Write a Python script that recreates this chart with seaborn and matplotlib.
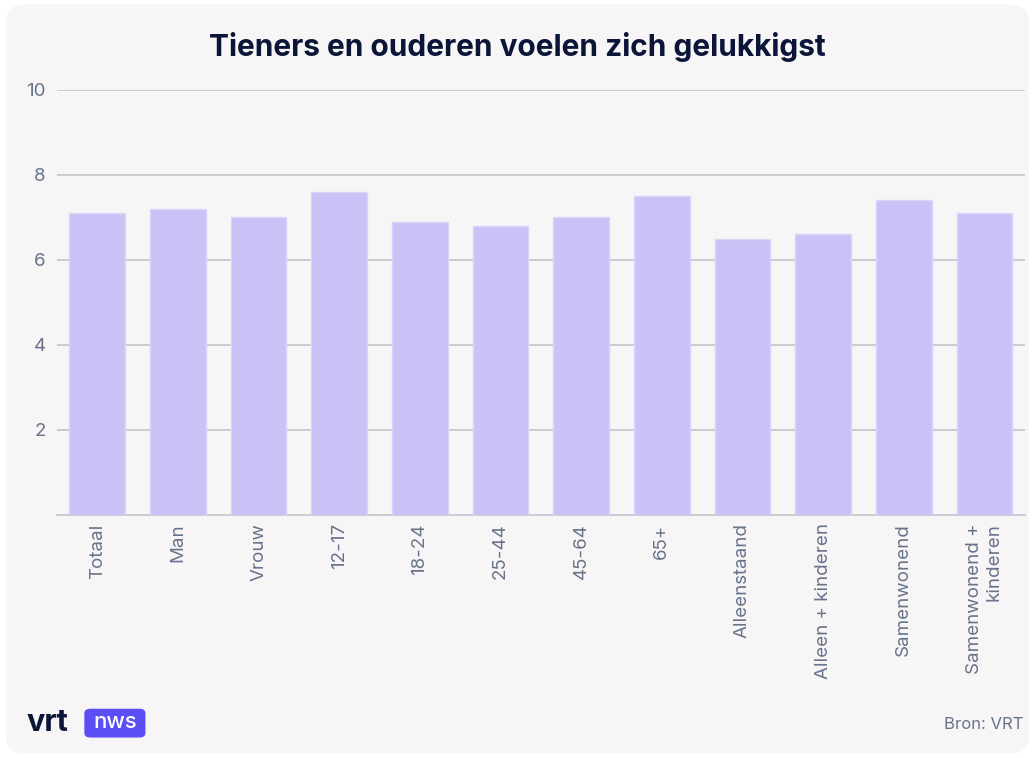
import matplotlib
matplotlib.use("Agg")
import matplotlib.pyplot as plt
import seaborn as sns
import pandas as pd
from matplotlib.patches import FancyBboxPatch

categories = ["Totaal", "Man", "Vrouw", "12-17", "18-24", "25-44", "45-64", "65+",
              "Alleenstaand", "Alleen + kinderen", "Samenwonend", "Samenwonend +\nkinderen"]
values = [7.1, 7.2, 7.0, 7.6, 6.9, 6.8, 7.0, 7.5, 6.5, 6.6, 7.4, 7.1]
y_ticks = [2, 4, 6, 8, 10]

sns.set_theme(style="white")
plt.rcParams['font.family'] = ['Inter', 'DejaVu Sans']

BG = "#f7f5f6"
BAR = "#c9c2f7"
GRID = "#c4c3ca"
TXT = "#67738a"

fig = plt.figure(figsize=(10.35, 7.58), dpi=100)
fig.patch.set_facecolor("white")
card = FancyBboxPatch((0.006, 0.006), 0.988, 0.988, boxstyle="round,pad=0,rounding_size=0.02",
                      transform=fig.transFigure, facecolor=BG, edgecolor="none", zorder=-10)
fig.patches.append(card)

ax = fig.add_axes([0.055, 0.3206, 0.935, 0.5607])
ax.set_facecolor(BG)
df = pd.DataFrame({"cat": categories, "val": values})
sns.barplot(data=df, x="cat", y="val", color=BAR, saturation=1, width=0.69, ax=ax, zorder=3,
            edgecolor="#d9d4fa", linewidth=1)
ax.set_xlim(-0.5, len(categories) - 0.5)
ax.set_ylim(0, 10)
ax.set_yticks(y_ticks)
ax.set_yticklabels([str(t) for t in y_ticks])
ax.yaxis.grid(True, color=GRID, linewidth=1.2, zorder=0)
ax.set_axisbelow(True)
for s in ["top", "right", "left"]:
    ax.spines[s].set_visible(False)
ax.spines["bottom"].set_color(GRID)
ax.spines["bottom"].set_linewidth(1.2)
ax.set_xlabel("")
ax.set_ylabel("")
ax.tick_params(axis="y", length=0, pad=8, labelsize=13.5, labelcolor=TXT)
ax.tick_params(axis="x", length=0, pad=6, labelsize=13.5, labelcolor=TXT)
plt.setp(ax.get_xticklabels(), rotation=90, va="top", ha="center", multialignment="right")

fig.text(0.5, 0.938, "Tieners en ouderen voelen zich gelukkigst", ha="center", va="center",
         fontsize=21.5, fontweight="bold", color="#0b1538")

fig.text(0.026, 0.046, "vrt", ha="left", va="center", fontsize=22, fontweight="bold", color="#0b1538")
logo = FancyBboxPatch((0.0815, 0.027), 0.059, 0.038, boxstyle="round,pad=0,rounding_size=0.006",
                      transform=fig.transFigure, facecolor="#5b4ef5", edgecolor="none")
fig.patches.append(logo)
fig.text(0.111, 0.047, "nws", ha="center", va="center", fontsize=16, color="white", fontweight="medium")
fig.text(0.989, 0.044, "Bron: VRT", ha="right", va="center", fontsize=12, color=TXT)

fig.savefig("out.png", dpi=100, facecolor="white")
